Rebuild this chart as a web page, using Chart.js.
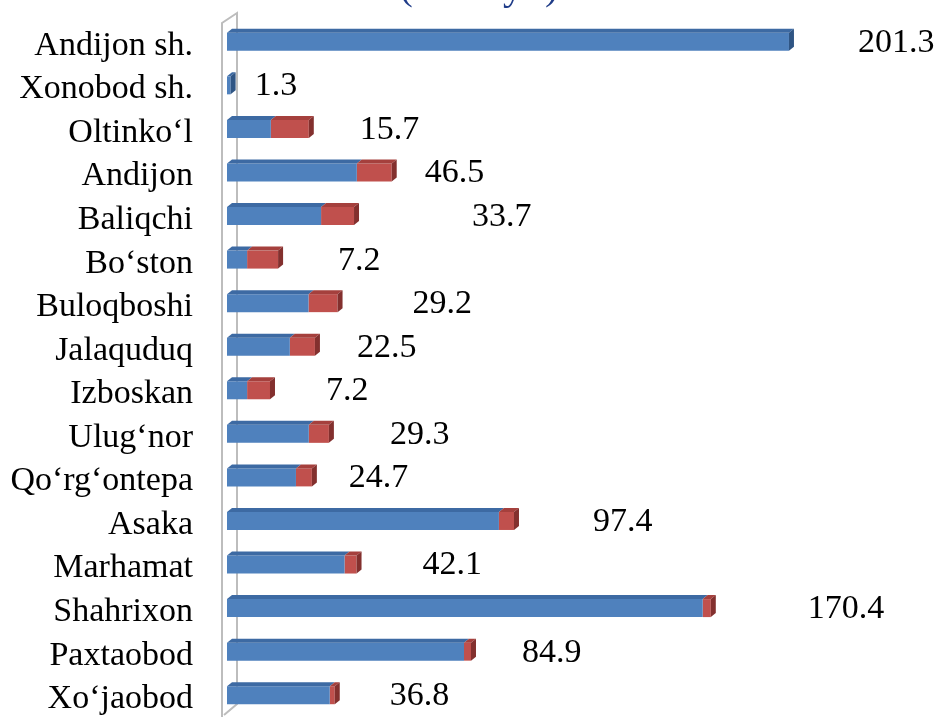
<!DOCTYPE html>
<html><head><meta charset="utf-8">
<style>html,body{margin:0;padding:0;background:#fff;overflow:hidden}
#wrap{width:936px;height:717px;position:relative}</style>
<script src="https://cdn.jsdelivr.net/npm/chart.js@4"></script>
</head><body><div id="wrap"><canvas id="c" width="936" height="717"></canvas></div>
<script>
const categories = ["Andijon sh.","Xonobod sh.","Oltinko‘l","Andijon","Baliqchi","Bo‘ston","Buloqboshi","Jalaquduq","Izboskan","Ulug‘nor","Qo‘rg‘ontepa","Asaka","Marhamat","Shahrixon","Paxtaobod","Xo‘jaobod"];
const blueValues = [201.3,1.3,15.7,46.5,33.7,7.2,29.2,22.5,7.2,29.3,24.7,97.4,42.1,170.4,84.9,36.8];
const redValues  = [0,0,13.6,12.5,11.8,11.1,10.4,9.0,8.2,7.2,5.7,5.4,4.3,2.9,2.5,1.8];
const seriesNames = ["1-ko‘rsatkich","2-ko‘rsatkich"];
const titleText = "(2019 yil)";

// manual label placement (px after the end of each stacked bar), as in the source chart
const labelNudge = [69,24,51,33,118,60,75,42,56,61,37,79,66,97,51,55];

const FRONT = ['#4f81bd','#c0504d'];
const TOP   = ['#3d6aa3','#a5403d'];
const SIDE  = ['#2f5584','#83302e'];
const DX = 5, DY = 4;

const wallPlugin = {
  id:'wall',
  beforeDatasetsDraw(chart){
    const {ctx, chartArea} = chart;
    const l = chartArea.left - 5, r = chartArea.left + 10;
    ctx.save();
    ctx.strokeStyle = '#bdbdbd'; ctx.lineWidth = 2;
    ctx.beginPath();
    ctx.moveTo(l, chartArea.bottom);
    ctx.lineTo(l, chartArea.top + 3);
    ctx.lineTo(r, chartArea.top - 7);
    ctx.lineTo(r, chartArea.bottom - 13);
    ctx.lineTo(l + 2, chartArea.bottom - 2);
    ctx.stroke();
    ctx.restore();
  }
};

const threeDPlugin = {
  id:'threeD',
  afterDatasetsDraw(chart){
    const ctx = chart.ctx;
    ctx.save();
    categories.forEach((c,i)=>{
      let last = null;
      chart.data.datasets.forEach((ds,d)=>{
        const el = chart.getDatasetMeta(d).data[i];
        if (!el || !(ds.data[i] > 0)) return;
        const left = Math.min(el.base, el.x), right = Math.max(el.base, el.x);
        const top = el.y - el.height/2, bottom = el.y + el.height/2;
        ctx.fillStyle = TOP[d];
        ctx.beginPath();
        ctx.moveTo(left, top); ctx.lineTo(left+DX, top-DY);
        ctx.lineTo(right+DX, top-DY); ctx.lineTo(right, top); ctx.closePath(); ctx.fill();
        last = {right, top, bottom, d};
      });
      if (last){
        ctx.fillStyle = SIDE[last.d];
        ctx.beginPath();
        ctx.moveTo(last.right, last.top); ctx.lineTo(last.right+DX, last.top-DY);
        ctx.lineTo(last.right+DX, last.bottom-DY); ctx.lineTo(last.right, last.bottom); ctx.closePath(); ctx.fill();
      }
    });
    ctx.restore();
  }
};

const labelPlugin = {
  id:'valLabels',
  afterDraw(chart){
    const {ctx} = chart;
    const xs = chart.scales.x, ys = chart.scales.y;
    ctx.save();
    ctx.font = '34px "Liberation Serif", "Times New Roman", serif';
    ctx.fillStyle = '#000';
    ctx.textAlign = 'left'; ctx.textBaseline = 'middle';
    categories.forEach((c,i)=>{
      const end = xs.getPixelForValue(blueValues[i] + redValues[i]);
      const y = ys.getPixelForValue(i);
      ctx.fillText(blueValues[i].toFixed(1), end + labelNudge[i], y + 1);
    });
    // partially visible title at the very top
    ctx.font = '40px "Liberation Serif", "Times New Roman", serif';
    ctx.fillStyle = '#1f3c88';
    ctx.textAlign = 'center'; ctx.textBaseline = 'alphabetic';
    ctx.fillText(titleText, 479, -1);
    ctx.restore();
  }
};

new Chart(document.getElementById('c'), {
  type:'bar',
  data:{
    labels: categories,
    datasets:[
      {label: seriesNames[0], data: blueValues, backgroundColor: FRONT[0], borderWidth:0, barPercentage:0.413, categoryPercentage:1},
      {label: seriesNames[1], data: redValues, backgroundColor: FRONT[1], borderWidth:0, barPercentage:0.413, categoryPercentage:1}
    ]
  },
  options:{
    indexAxis:'y',
    responsive:false, animation:false, devicePixelRatio:1,
    layout:{padding:{top:20,right:39,bottom:0,left:0}},
    plugins:{legend:{display:false}, tooltip:{enabled:false}, title:{display:false}},
    scales:{
      x:{stacked:true, min:0, max:240, display:false},
      y:{stacked:true, grid:{display:false}, border:{display:false},
         ticks:{color:'#000', padding:26, labelOffset:4, autoSkip:false, font:{family:'"Liberation Serif", "Times New Roman", serif', size:34}},
         afterFit(s){ s.width = 227; s.paddingTop = 0; s.paddingBottom = 0; }}
    }
  },
  plugins:[wallPlugin, threeDPlugin, labelPlugin]
});
</script></body></html>
